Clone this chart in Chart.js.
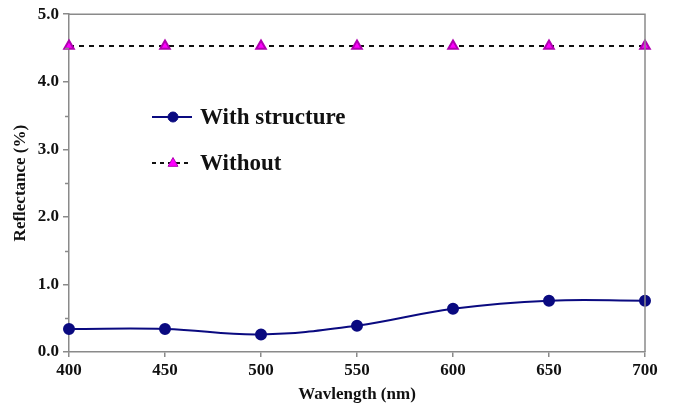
<!DOCTYPE html>
<html>
<head>
<meta charset="utf-8">
<script src="https://cdn.jsdelivr.net/npm/chart.js@4"></script>
<style>
  html, body { margin: 0; padding: 0; background: #fff; }
  #wrap { width: 675px; height: 406px; }
</style>
</head>
<body>
<div id="wrap"><canvas id="chart" width="675" height="406"></canvas></div>
<script>
  // Data
  const wavelengths = [400, 450, 500, 550, 600, 650, 700];
  const withStructure = [0.34, 0.34, 0.26, 0.39, 0.64, 0.76, 0.76];
  const withoutStructure = [4.53, 4.53, 4.53, 4.53, 4.53, 4.53, 4.53];
  const seriesLabels = ['With structure', 'Without'];

  const serif = '"Liberation Serif", "Times New Roman", serif';
  const axisGray = '#8a8a8a';

  function toPoints(ys) {
    return wavelengths.map((x, i) => ({ x: x, y: ys[i] }));
  }

  // Box round the plot area, minor y ticks and the in-plot legend
  const framePlugin = {
    id: 'frame',
    afterDraw(chart) {
      const ctx = chart.ctx;
      const a = chart.chartArea;
      const y = chart.scales.y;
      ctx.save();
      ctx.strokeStyle = axisGray;
      ctx.lineWidth = 1.5;
      ctx.beginPath();
      ctx.moveTo(a.left, a.top);
      ctx.lineTo(a.right, a.top);
      ctx.lineTo(a.right, a.bottom);
      ctx.stroke();

      // minor ticks
      for (let v = 0.5; v < 5; v += 1) {
        const py = Math.round(y.getPixelForValue(v)) + 0.5;
        ctx.beginPath();
        ctx.moveTo(a.left - 4, py);
        ctx.lineTo(a.left, py);
        ctx.stroke();
      }

      // legend
      const ds = chart.data.datasets;
      const rows = [117, 163];
      ctx.font = 'bold 23px ' + serif;
      ctx.textBaseline = 'middle';
      ds.forEach((d, i) => {
        const ly = rows[i];
        ctx.strokeStyle = d.borderColor;
        ctx.lineWidth = d.borderWidth;
        ctx.setLineDash(d.borderDash ? [4, 4] : []);
        ctx.beginPath();
        ctx.moveTo(152, ly);
        ctx.lineTo(192, ly);
        ctx.stroke();
        ctx.setLineDash([]);
        ctx.fillStyle = d.pointBackgroundColor;
        ctx.strokeStyle = d.pointBorderColor;
        ctx.lineWidth = 1;
        ctx.beginPath();
        if (d.pointStyle === 'triangle') {
          const r = 5.5;
          ctx.moveTo(173, ly - r);
          ctx.lineTo(173 + r * 0.9, ly + r * 0.6);
          ctx.lineTo(173 - r * 0.9, ly + r * 0.6);
          ctx.closePath();
        } else {
          ctx.arc(173, ly, 5, 0, Math.PI * 2);
        }
        ctx.fill();
        ctx.stroke();
        ctx.fillStyle = '#111';
        ctx.fillText(d.label, 200, ly + 1);
      });
      ctx.restore();
    }
  };

  new Chart(document.getElementById('chart'), {
    type: 'line',
    data: {
      datasets: [{
        label: seriesLabels[0],
        data: toPoints(withStructure),
        borderColor: '#0a0a80',
        backgroundColor: '#0a0a80',
        pointBackgroundColor: '#0a0a80',
        pointBorderColor: '#0a0a80',
        pointStyle: 'circle',
        pointRadius: 5,
        borderWidth: 2,
        tension: 0.4,
        clip: false,
        fill: false
      }, {
        label: seriesLabels[1],
        data: toPoints(withoutStructure),
        borderColor: '#111',
        backgroundColor: '#ff00ff',
        pointBackgroundColor: '#ff00ff',
        pointBorderColor: '#b000b0',
        pointStyle: 'triangle',
        pointRadius: 5.5,
        borderWidth: 2,
        borderDash: [5, 5],
        clip: false,
        fill: false
      }]
    },
    options: {
      responsive: false,
      animation: false,
      layout: { padding: { top: 13, right: 30, left: 0, bottom: 0 } },
      plugins: { legend: { display: false }, tooltip: { enabled: false } },
      scales: {
        x: {
          type: 'linear',
          min: 400,
          max: 700,
          afterFit(scale) { scale.height = 54; },
          ticks: {
            stepSize: 50,
            color: '#111',
            padding: 3,
            font: { family: serif, size: 17, weight: 'bold' }
          },
          grid: { drawOnChartArea: false, color: axisGray, tickColor: axisGray, tickLength: 5, lineWidth: 1.5 },
          border: { color: axisGray, width: 1.5 },
          title: {
            display: true,
            text: 'Wavlength (nm)',
            color: '#111',
            padding: { top: 0, bottom: 1 },
            font: { family: serif, size: 17, weight: 'bold' }
          }
        },
        y: {
          min: 0,
          max: 5,
          afterFit(scale) { scale.width = 69; },
          ticks: {
            stepSize: 1,
            color: '#111',
            padding: 4,
            callback: v => v.toFixed(1),
            font: { family: serif, size: 17, weight: 'bold' }
          },
          grid: { drawOnChartArea: false, color: axisGray, tickColor: axisGray, tickLength: 6, lineWidth: 1.5 },
          border: { color: axisGray, width: 1.5 },
          title: {
            display: true,
            text: 'Reflectance (%)',
            color: '#111',
            padding: { top: 10, bottom: 0 },
            font: { family: serif, size: 17, weight: 'bold' }
          }
        }
      }
    },
    plugins: [framePlugin]
  });
</script>
</body>
</html>
